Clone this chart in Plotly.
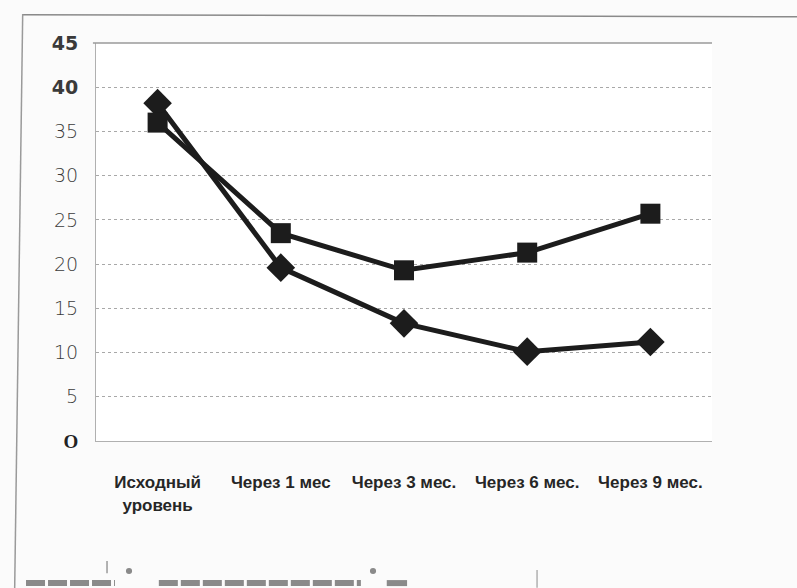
import plotly.graph_objects as go

# Time points of the observation
categories = ["Исходный<br>уровень", "Через 1 мес", "Через 3 мес.", "Через 6 мес.", "Через 9 мес."]

# Two study groups
series_diamond = [38.2, 19.6, 13.3, 10.1, 11.2]
series_square = [36.0, 23.5, 19.3, 21.3, 25.7]

# Y-axis ticks as printed
y_tickvals = [0, 5, 10, 15, 20, 25, 30, 35, 40, 45]
y_ticktext = ['<span style="font-family:Liberation Serif;font-weight:bold;fill:#222">O</span>',
              "5", "10", "15", "20", "25", "30", "35", "<b>40</b>", "<b>45</b>"]

line_color = "#1c1c1c"
grey = "#8a8a8a"

fig = go.Figure()

fig.add_trace(go.Scatter(
    x=categories, y=series_diamond, mode="lines+markers",
    line=dict(color=line_color, width=5),
    marker=dict(symbol="diamond", size=22, color=line_color),
    showlegend=False,
))
fig.add_trace(go.Scatter(
    x=categories, y=series_square, mode="lines+markers",
    line=dict(color=line_color, width=5),
    marker=dict(symbol="square", size=20, color=line_color),
    showlegend=False,
))

fig.update_layout(
    width=797, height=588,
    margin=dict(l=96, r=85, t=43, b=147),
    paper_bgcolor="#fbfbfb",
    plot_bgcolor="#ffffff",
    font=dict(family="Liberation Sans, Arial", color="#2a2a2a"),
    xaxis=dict(
        type="category",
        range=[-0.5, 4.5],
        showgrid=False,
        showline=True, linecolor="#b0b0b0", linewidth=1,
        ticks="", ticklabelstandoff=26,
        tickfont=dict(size=17, family="Liberation Sans, Arial", color="#262626", weight="bold"),
        tickangle=0,
    ),
    yaxis=dict(
        range=[0, 45],
        tickvals=y_tickvals, ticktext=y_ticktext,
        showgrid=True, gridcolor="#a8a8a8", gridwidth=1, griddash="dot",
        showline=True, linecolor="#b0b0b0", linewidth=1,
        zeroline=False,
        ticks="", ticklabelstandoff=13,
        tickfont=dict(size=19, family="DejaVu Sans, Liberation Sans", color="#3a3a3a", weight=300),
    ),
)

# Solid top border of the plot area
fig.add_shape(type="line", xref="paper", yref="paper", x0=-0.005, x1=1.0, y0=1, y1=1,
              line=dict(color="#9a9a9a", width=1.5))

# Outer frame of the figure panel
fig.add_shape(type="line", xref="paper", yref="paper", x0=-0.120, x1=1.14, y0=1.071, y1=1.066,
              line=dict(color=grey, width=1.5))
fig.add_shape(type="line", xref="paper", yref="paper", x0=-0.119, x1=-0.132, y0=1.073, y1=-0.37,
              line=dict(color="#9a9a9a", width=1.5))

# Partial legend strip along the lower edge
legend_dash = "19px,3px"
fig.add_shape(type="line", xref="paper", yref="paper", x0=-0.1136, x1=0.0308, y0=-0.357, y1=-0.357,
              line=dict(color=grey, width=6, dash=legend_dash))
fig.add_shape(type="line", xref="paper", yref="paper", x0=0.102, x1=0.430, y0=-0.357, y1=-0.357,
              line=dict(color=grey, width=6, dash=legend_dash))
fig.add_shape(type="line", xref="paper", yref="paper", x0=0.472, x1=0.505, y0=-0.357, y1=-0.357,
              line=dict(color=grey, width=6))
for xp in [0.0536, 0.4497]:
    fig.add_shape(type="circle", xref="paper", yref="paper",
                  x0=xp - 0.005, x1=xp + 0.005, y0=-0.334, y1=-0.319,
                  fillcolor=grey, line=dict(width=0))
fig.add_shape(type="line", xref="paper", yref="paper", x0=0.0179, x1=0.0179, y0=-0.3015, y1=-0.332,
              line=dict(color="#9a9a9a", width=1.5))
fig.add_shape(type="line", xref="paper", yref="paper", x0=0.716, x1=0.716, y0=-0.324, y1=-0.369,
              line=dict(color="#b0b0b0", width=1.5))

fig.write_html("out.html")
